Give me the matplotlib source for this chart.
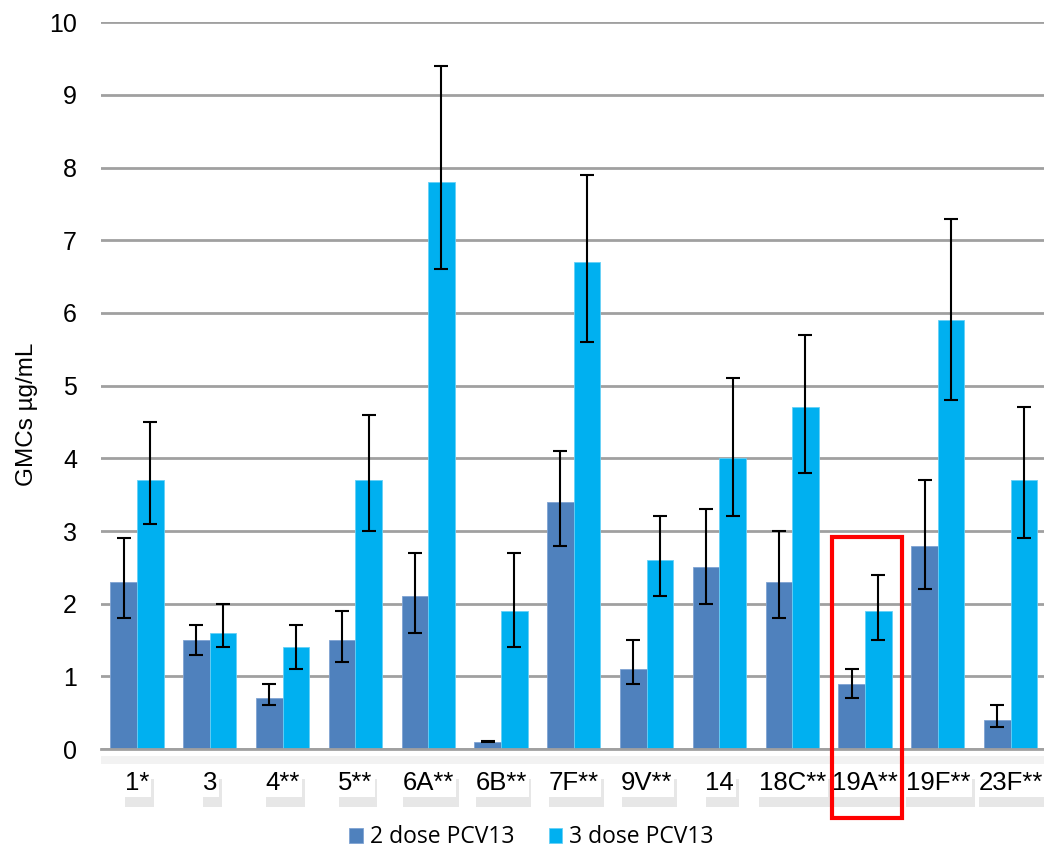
import numpy as np
import matplotlib
matplotlib.use("Agg")
import matplotlib.pyplot as plt
import matplotlib.patheffects as pe
from matplotlib.patches import Rectangle

# Data
serotypes = ["1*", "3", "4**", "5**", "6A**", "6B**", "7F**", "9V**", "14",
             "18C**", "19A**", "19F**", "23F**"]
gmc_2dose = [2.3, 1.5, 0.7, 1.5, 2.1, 0.1, 3.4, 1.1, 2.5, 2.3, 0.9, 2.8, 0.4]
low_2dose = [1.8, 1.3, 0.6, 1.2, 1.6, 0.09, 2.8, 0.9, 2.0, 1.8, 0.7, 2.2, 0.3]
high_2dose = [2.9, 1.7, 0.9, 1.9, 2.7, 0.11, 4.1, 1.5, 3.3, 3.0, 1.1, 3.7, 0.6]
gmc_3dose = [3.7, 1.6, 1.4, 3.7, 7.8, 1.9, 6.7, 2.6, 4.0, 4.7, 1.9, 5.9, 3.7]
low_3dose = [3.1, 1.4, 1.1, 3.0, 6.6, 1.4, 5.6, 2.1, 3.2, 3.8, 1.5, 4.8, 2.9]
high_3dose = [4.5, 2.0, 1.7, 4.6, 9.4, 2.7, 7.9, 3.2, 5.1, 5.7, 2.4, 7.3, 4.7]
highlight = "19A**"

dark = "#4F81BD"
light = "#00B0F0"

plt.rcParams["font.family"] = ["Liberation Sans", "DejaVu Sans"]

fig = plt.figure(figsize=(10.44, 8.48), dpi=100)
ax = fig.add_axes([0.0963, 0.1167, 0.9066, 0.857])

x = np.arange(len(serotypes))
w = 0.365

err2 = [np.array(gmc_2dose) - np.array(low_2dose), np.array(high_2dose) - np.array(gmc_2dose)]
err3 = [np.array(gmc_3dose) - np.array(low_3dose), np.array(high_3dose) - np.array(gmc_3dose)]

ax.bar(x - w / 2, gmc_2dose, w, color=dark, edgecolor="#7FA3D3", linewidth=0.6,
       label="2 dose PCV13", zorder=2)
ax.bar(x + w / 2, gmc_3dose, w, color=light, edgecolor="#66D0F6", linewidth=0.6,
       label="3 dose PCV13", zorder=2)
ax.errorbar(x - w / 2, gmc_2dose, yerr=err2, fmt="none", ecolor="black",
            elinewidth=1.5, capsize=5, capthick=1.5, zorder=3)
ax.errorbar(x + w / 2, gmc_3dose, yerr=err3, fmt="none", ecolor="black",
            elinewidth=1.5, capsize=5, capthick=1.5, zorder=3)

ax.set_xlim(-0.5, len(serotypes) - 0.5)
ax.set_ylim(0, 10)
ax.set_yticks(range(0, 11))
ax.yaxis.grid(True, color="#A0A0A0", linewidth=2)
ax.set_axisbelow(True)
for s in ["left", "right", "top"]:
    ax.spines[s].set_visible(False)
ax.spines["bottom"].set_color("#A0A0A0")
ax.spines["bottom"].set_linewidth(2)
ax.tick_params(axis="both", length=0)
ax.tick_params(axis="y", labelsize=18, pad=17)
ax.set_ylabel("GMCs µg/mL", fontsize=17.5)
ax.yaxis.set_label_coords(-0.066, 0.46)

# faint shadow under the axis line
ax.add_patch(Rectangle((0, -0.02), 1, 0.01, transform=ax.transAxes,
                       facecolor="#F2F2F2", edgecolor="none", clip_on=False, zorder=0))

ax.set_xticks(x)
ax.set_xticklabels(serotypes, fontsize=18.5)
ax.tick_params(axis="x", pad=16)
for lab in ax.get_xticklabels():
    lab.set_bbox(dict(facecolor="white", edgecolor="none", pad=1.5))
    lab.get_bbox_patch().set_path_effects(
        [pe.withSimplePatchShadow(offset=(2, -7), shadow_rgbFace="#B0B0B0", alpha=0.3)])

# highlight box
i = serotypes.index(highlight)
rect = Rectangle((i - 0.45, -0.95), 0.96, 3.87, fill=False, edgecolor="red",
                 linewidth=3, clip_on=False, zorder=5)
ax.add_patch(rect)

fig.legend(loc="lower center", ncol=2, frameon=False, bbox_to_anchor=(0.509, -0.026),
           handlelength=0.6, handleheight=0.6, handletextpad=0.3,
           columnspacing=1.5, prop={"family": "Open Sans", "size": 16.5})

fig.savefig("out.png", dpi=100)
